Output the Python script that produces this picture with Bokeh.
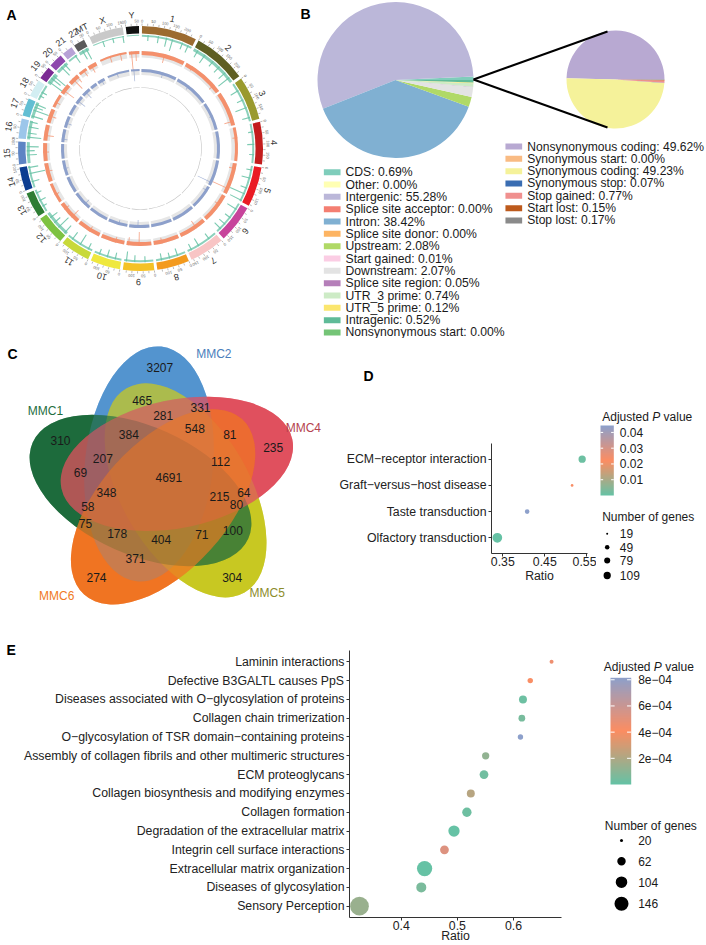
import math
import numpy as np
from bokeh.plotting import figure
from bokeh.layouts import row, column
from bokeh.models import ColumnDataSource, LinearColorMapper, FixedTicker, Range1d
from bokeh.core.properties import value
from bokeh.embed import file_html
from bokeh.resources import INLINE

FONT = "Liberation Sans"
TXT = "#1a1a1a"

# ======================= DATA =======================
# ---- A: circos ----
chrom_names = ["1", "2", "3", "4", "5", "6", "7", "8", "9", "10", "11", "12", "13", "14",
               "15", "16", "17", "18", "19", "20", "21", "22", "MT", "X", "Y"]
chrom_len_mb = [249.3, 243.2, 198.0, 191.2, 180.9, 171.1, 159.1, 146.4, 141.2, 135.5, 135.0,
                133.9, 115.2, 107.3, 102.5, 90.4, 81.2, 78.1, 59.1, 63.0, 48.1, 51.3, 0.02,
                155.3, 59.4]
chrom_colors = ["#9c6b30", "#5f5f22", "#9a9a2e", "#c31d1d", "#ea1c24", "#c7449b", "#f8c5c5",
                "#f39a1e", "#f4c226", "#efe83e", "#c8d93a", "#7dc242", "#2e7d34", "#0c3d91",
                "#5d84c4", "#9cc6ea", "#62bed3", "#d2eef2", "#7b2b94", "#8e48ad", "#b7a2d6",
                "#5a5a5a", "#888888", "#c9c9c9", "#111111"]
green_base = [2, 3, 2, 2, 2, 2, 2, 2, 2, 2, 2, 3, 2, 2, 3, 3, 3, 2, 4, 3, 2, 3, 0, 1, 1]
green_peaks = [("1", 30, 6), ("1", 80, 7), ("1", 120, 9), ("1", 150, 12), ("1", 200, 7),
               ("1", 230, 8), ("2", 20, 8), ("2", 60, 10), ("2", 110, 7), ("2", 150, 8),
               ("2", 190, 9), ("2", 220, 14), ("3", 40, 9), ("3", 90, 7), ("3", 130, 12),
               ("3", 180, 8), ("4", 40, 5), ("4", 100, 7), ("4", 150, 5), ("5", 20, 6),
               ("5", 60, 9), ("5", 110, 7), ("5", 140, 16), ("5", 175, 13), ("6", 30, 11),
               ("6", 80, 7), ("6", 120, 8), ("6", 150, 9), ("7", 40, 7), ("7", 100, 9),
               ("7", 140, 7), ("8", 40, 8), ("8", 80, 6), ("8", 120, 7), ("9", 40, 6),
               ("9", 90, 7), ("9", 130, 10), ("10", 30, 7), ("10", 70, 8), ("10", 110, 6),
               ("11", 20, 7), ("11", 65, 12), ("11", 110, 9), ("12", 10, 10), ("12", 50, 14),
               ("12", 80, 8), ("12", 110, 9), ("13", 30, 5), ("13", 60, 7), ("13", 100, 6),
               ("14", 30, 8), ("14", 70, 16), ("14", 100, 10), ("15", 40, 10), ("15", 60, 8),
               ("15", 80, 12), ("16", 10, 14), ("16", 30, 9), ("16", 60, 10), ("16", 85, 8),
               ("17", 10, 12), ("17", 40, 16), ("17", 55, 9), ("17", 70, 11), ("18", 20, 5),
               ("18", 40, 6), ("19", 10, 18), ("19", 30, 12), ("19", 45, 16), ("20", 30, 12),
               ("20", 50, 9), ("21", 40, 9), ("22", 20, 10), ("22", 40, 12), ("X", 50, 6),
               ("X", 100, 5), ("X", 150, 7)]
salmon_base = [4, 4, 4, 3, 4, 4, 4, 4, 4, 4, 4, 4, 3, 4, 4, 4, 4, 3, 4, 4, 3, 4, 0, 2, 3]
salmon_peaks = [("1", 130, 9), ("2", 40, 5), ("2", 200, 7), ("3", 175, 10), ("4", 60, 5),
                ("5", 30, 7), ("5", 150, 18), ("6", 60, 6), ("7", 60, 9), ("8", 100, 6),
                ("9", 70, 14), ("9", 130, 8), ("10", 50, 6), ("11", 60, 6), ("12", 40, 10),
                ("12", 100, 6), ("13", 50, 5), ("14", 60, 7), ("15", 50, 6), ("16", 30, 10),
                ("17", 40, 8), ("18", 30, 6), ("19", 20, 14), ("20", 30, 14), ("20", 55, 9),
                ("21", 30, 8), ("22", 20, 9), ("X", 60, 7), ("X", 120, 8), ("Y", 15, 18),
                ("Y", 40, 10)]
blue_base = [3, 3, 3, 3, 3, 3, 3, 3, 3, 3, 3, 3, 3, 3, 3, 3, 3, 3, 3, 3, 3, 3, 0, 2, 2]
blue_peaks = [("1", 150, 6), ("2", 90, 5), ("3", 100, 4), ("5", 160, 16), ("6", 30, 5),
              ("9", 80, 8), ("10", 60, 5), ("12", 40, 7), ("14", 50, 5), ("16", 20, 6),
              ("17", 30, 7), ("19", 20, 10), ("20", 30, 9), ("22", 30, 6), ("X", 70, 5),
              ("Y", 20, 12)]

# ---- B: pies ----
region_labels = ["CDS", "Other", "Intergenic", "Splice site acceptor", "Intron",
                 "Splice site donor", "Upstream", "Start gained", "Downstream",
                 "Splice site region", "UTR_3 prime", "UTR_5 prime", "Intragenic",
                 "Nonsynonymous start"]
region_pct = [0.69, 0.00, 55.28, 0.00, 38.42, 0.00, 2.08, 0.01, 2.07, 0.05, 0.74, 0.12,
              0.52, 0.00]
region_colors = ["#7fcdbb", "#ffffb3", "#bbb7d9", "#f47f72", "#80b0d2", "#fdb462", "#b0d966",
                 "#fbcde4", "#e3e3e3", "#b57fb9", "#cdebc6", "#fbe66e", "#5fbb98", "#74c476"]
coding_labels = ["Nonsynonymous coding", "Synonymous start", "Synonymous coding",
                 "Synonymous stop", "Stop gained", "Start lost", "Stop lost"]
coding_pct = [49.62, 0.00, 49.23, 0.07, 0.77, 0.15, 0.17]
coding_colors = ["#b8a9d2", "#f9bb83", "#f5f29a", "#3a6db2", "#f0908f", "#bd5a1c", "#8a8a8a"]

# ---- C: venn ----
venn_sets = ["MMC1", "MMC2", "MMC4", "MMC5", "MMC6"]
venn_colors = ["#1d6b3c", "#5394cf", "#e0505e", "#c8c822", "#f07422"]
venn_label_colors = ["#1f6e3e", "#4a7ebb", "#b5434f", "#8c8c2a", "#f07a24"]
venn_counts = [3207, 465, 331, 281, 310, 384, 548, 81, 235, 207, 112, 69, 4691, 348, 215,
               64, 80, 58, 75, 178, 404, 71, 100, 371, 274, 304]

# ---- D: KEGG dot plot (bottom -> top) ----
d_terms = ["Olfactory transduction", "Taste transduction", "Graft\u2212versus\u2212host disease",
           "ECM\u2212receptor interaction"]
d_ratio = [0.337, 0.408, 0.515, 0.539]
d_count = [109, 34, 19, 67]
d_padj = [1e-10, 0.0444, 0.023, 0.0012]
d_size_breaks = [19, 49, 79, 109]
d_p_ticks = [0.01, 0.02, 0.03, 0.04]

# ---- E: Reactome dot plot (bottom -> top) ----
e_terms = ["Sensory Perception", "Diseases of glycosylation", "Extracellular matrix organization",
           "Integrin cell surface interactions", "Degradation of the extracellular matrix",
           "Collagen formation", "Collagen biosynthesis and modifying enzymes",
           "ECM proteoglycans", "Assembly of collagen fibrils and other multimeric structures",
           "O\u2212glycosylation of TSR domain\u2212containing proteins",
           "Collagen chain trimerization",
           "Diseases associated with O\u2212glycosylation of proteins",
           "Defective B3GALTL causes PpS", "Laminin interactions"]
e_ratio = [0.3255, 0.4357, 0.4416, 0.477, 0.494, 0.517, 0.524, 0.5475, 0.5505, 0.6125, 0.615,
           0.617, 0.630, 0.668]
e_count = [146, 52, 102, 43, 62, 47, 38, 43, 34, 25, 31, 38, 25, 20]
e_padj = [1.4e-4, 6e-5, 1e-9, 5.2e-4, 1e-6, 2.5e-5, 2.2e-4, 3e-5, 1.2e-4, 8.15e-4, 5e-5,
          2e-5, 4.2e-4, 4.6e-4]
e_size_breaks = [20, 62, 104, 146]
e_p_ticks = [2e-4, 4e-4, 6e-4, 8e-4]
e_p_tick_labels = ["2e\u221204", "4e\u221204", "6e\u221204", "8e\u221204"]

GRAD = ["#66c2a5", "#fc8d62", "#8da0cb"]


# ======================= HELPERS =======================
def noalign(p):
    try:
        p.frame_align = False
    except Exception:
        pass
    return p


def blank(width, height, xr, yr):
    p = figure(width=width, height=height, x_range=Range1d(*xr), y_range=Range1d(*yr),
               x_axis_type=None, y_axis_type=None, toolbar_location=None,
               output_backend="svg", min_border=0)
    p.outline_line_color = None
    p.grid.visible = False
    p.background_fill_color = "white"
    p.border_fill_color = "white"
    return noalign(p)


def txt(p, xs, ys, texts, size="12px", align="left", color=TXT, style="normal", angle=0.0,
        baseline="middle"):
    p.text(x=xs, y=ys, text=texts, angle=angle, text_font=value(FONT), text_font_size=size,
           text_align=align, text_baseline=baseline, text_color=color, text_font_style=style)


def interp_palette(anchors, n=256):
    rgb = [tuple(int(h[i:i + 2], 16) for i in (1, 3, 5)) for h in anchors]
    out = []
    for k in range(n):
        t = k / (n - 1) * (len(rgb) - 1)
        i = min(int(t), len(rgb) - 2)
        f = t - i
        c = [round(rgb[i][j] * (1 - f) + rgb[i + 1][j] * f) for j in range(3)]
        out.append("#%02x%02x%02x" % tuple(c))
    return out


PAL = interp_palette(GRAD)

# page layout (no body margin): row1 y 0-338, row2 y 338-628, row3 y 628-945
# ======================= PANEL A =======================
pA = blank(300, 338, (-140, 160), (-190, 148))   # circle centre at page (140, 148)
N = len(chrom_names)
GAP = 1.4
SCALE = (360 - GAP * N) / sum(chrom_len_mb)
chrom_start = []
_t = GAP / 2
for L in chrom_len_mb:
    chrom_start.append(_t)
    _t += L * SCALE + GAP
cidx = {c: i for i, c in enumerate(chrom_names)}


def th(ci, pos):
    return chrom_start[ci] + pos * SCALE


def ang(t):
    return math.radians(90 - t)


def add_wedges(items, alpha=1.0):
    d = dict(ri=[], ro=[], sa=[], ea=[], c=[])
    for t1, t2, ri, ro, c in items:
        d["ri"].append(ri)
        d["ro"].append(ro)
        d["sa"].append(ang(t2))
        d["ea"].append(ang(t1))
        d["c"].append(c)
    pA.annular_wedge(x=0, y=0, inner_radius="ri", outer_radius="ro", start_angle="sa",
                     end_angle="ea", fill_color="c", fill_alpha=alpha, line_color=None,
                     source=ColumnDataSource(d))


R_ID0, R_ID1 = 115.0, 122.5
R_G = 113.8
R_S, R_S_BG = 97.5, 91.0
R_B, R_B_BG = 79.5, 73.5

bg_items, ideo_items, inner_items = [], [], []
gb_items, g_items, s_items, sp_items, b_items, bp_items = [], [], [], [], [], []
for i, L in enumerate(chrom_len_mb):
    if L < 1:
        continue
    t1, t2 = chrom_start[i], chrom_start[i] + L * SCALE
    ideo_items.append((t1, t2, R_ID0, R_ID1, chrom_colors[i]))
    bg_items.append((t1, t2, R_S_BG, R_S, "#e6e6e6"))
    bg_items.append((t1, t2, R_B_BG, R_B, "#e6e6e6"))
    inner_items.append((t1, t2, 60.7, 61.3, "#c4c4c4"))
    if green_base[i] > 0:
        gb_items.append((t1, t2, R_G - green_base[i], R_G, "#66c2a5"))
    s_items.append((t1, t2, R_S - salmon_base[i], R_S, "#f4906c"))
    b_items.append((t1, t2, R_B - blue_base[i], R_B, "#8da0cb"))

for c, pos, h in green_peaks:
    t = th(cidx[c], pos)
    g_items.append((t - 0.3, t + 0.3, R_G - h, R_G, "#66c2a5"))
for c, pos, h in salmon_peaks:
    t = th(cidx[c], pos)
    sp_items.append((t - 0.3, t + 0.3, R_S - h, R_S, "#f4906c"))
for c, pos, h in blue_peaks:
    t = th(cidx[c], pos)
    bp_items.append((t - 0.3, t + 0.3, R_B - h, R_B, "#8da0cb"))

add_wedges(bg_items)
add_wedges(ideo_items)
add_wedges(inner_items)
add_wedges(gb_items, 0.75)
add_wedges(g_items, 0.85)
add_wedges(s_items)
add_wedges(sp_items, 0.75)
add_wedges(b_items)
add_wedges(bp_items, 0.75)

tx0, ty0, tx1, ty1 = [], [], [], []
lx, ly, lt, la = [], [], [], []
for i, L in enumerate(chrom_len_mb):
    if L < 1:
        continue
    pos = 0
    while pos <= L:
        t = th(i, pos)
        a = ang(t)
        tx0.append(122.8 * math.cos(a)); ty0.append(122.8 * math.sin(a))
        tx1.append(125.0 * math.cos(a)); ty1.append(125.0 * math.sin(a))
        if pos % 50 == 0:
            lx.append(127.6 * math.cos(a)); ly.append(127.6 * math.sin(a))
            lt.append(str(pos)); la.append(-math.radians(t))
        pos += 25
pA.segment(x0=tx0, y0=ty0, x1=tx1, y1=ty1, line_color="#777777", line_width=0.5)
txt(pA, lx, ly, lt, size="4px", align="center", color="#666666", angle=la)

cx, cy, ct, ca = [], [], [], []
for i, name in enumerate(chrom_names):
    t = chrom_start[i] + chrom_len_mb[i] * SCALE / 2
    a = ang(t)
    cx.append(133.5 * math.cos(a)); cy.append(133.5 * math.sin(a))
    ct.append(name); ca.append(-math.radians(t))
txt(pA, cx, cy, ct, size="9px", align="center", color="#333333", angle=ca)
txt(pA, [-134], [134], ["A"], size="14px", style="bold", color="black")

# ======================= PANEL B =======================
pB = blank(406, 338, (300, 706), (-338, 0))


def pie(p, xc, yc, r, pct, colors):
    tot = sum(pct)
    cum = np.cumsum([0.0] + list(pct)) / tot * 2 * math.pi
    keep = [k for k, v in enumerate(pct) if v > 0]
    p.wedge(x=xc, y=yc, radius=r, start_angle=[cum[k] for k in keep],
            end_angle=[cum[k + 1] for k in keep], direction="anticlock",
            fill_color=[colors[k] for k in keep], line_color=None)


pie(pB, 395, -79.5, 78, region_pct, region_colors)
pie(pB, 615, -79, 49, coding_pct, coding_colors)
pB.segment(x0=[473, 473], y0=[-79, -79], x1=[607, 607], y1=[-31, -127], line_color="black",
           line_width=2)

ROW = 12.33
ly_left = [-(171.7 + k * ROW) for k in range(len(region_labels))]
ly_right = [-(146.0 + k * ROW) for k in range(len(coding_labels))]
pB.rect(x=331.7, y=ly_left, width=16.7, height=6, fill_color=region_colors, line_color=None)
pB.rect(x=513.3, y=ly_right, width=16.7, height=6, fill_color=coding_colors, line_color=None)
txt(pB, [345] * len(ly_left), ly_left,
    ["%s: %.2f%%" % (l, v) for l, v in zip(region_labels, region_pct)], size="12.2px")
txt(pB, [526.7] * len(ly_right), ly_right,
    ["%s: %.2f%%" % (l, v) for l, v in zip(coding_labels, coding_pct)], size="12.1px")
txt(pB, [300], [-13.5], ["B"], size="14px", style="bold", color="black")

# ======================= PANEL C =======================
pC = blank(330, 290, (0, 330), (-628, -338))
O = (162.5, 482.6)
RC, TH0, PHI0, EA, EB = 23.7, 161.8, 24.0, 118.0, 64.0
k_of = {"MMC1": 0, "MMC2": 1, "MMC4": 2, "MMC5": 3, "MMC6": 4}
draw_order = ["MMC2", "MMC5", "MMC1", "MMC4", "MMC6"]
for alpha in (1.0, 0.5):
    for s in draw_order:
        k = k_of[s]
        tc = math.radians(TH0 + 72 * k)
        ex = O[0] + RC * math.cos(tc)
        ey = O[1] + RC * math.sin(tc)
        pC.ellipse(x=ex, y=-ey, width=2 * EA, height=2 * EB,
                   angle=-math.radians(PHI0 + 72 * k),
                   fill_color=venn_colors[venn_sets.index(s)], fill_alpha=alpha,
                   line_color=None)

venn_count_xy = [(159.3, 366.7), (141.7, 400), (200, 406.7), (162.7, 415), (60, 440),
                 (128.3, 434), (194.3, 428.3), (229.3, 434), (272.7, 446.7), (102.3, 458.3),
                 (220, 460.7), (80, 471.7), (168.3, 476.7), (106, 492.3), (219, 495.7),
                 (243.3, 492.3), (236, 504), (87.3, 505.7), (85, 523.3), (116.7, 533.3),
                 (160.7, 539.3), (201.3, 534), (232.3, 530), (135, 557.7), (96, 576.7),
                 (231.7, 576.7)]
txt(pC, [q[0] for q in venn_count_xy], [-q[1] for q in venn_count_xy],
    [str(v) for v in venn_counts], size="12px", align="center")
venn_label_xy = [(45, 410.5), (213.3, 353.8), (302.8, 427), (266.7, 592), (56.2, 595.3)]
txt(pC, [q[0] for q in venn_label_xy], [-q[1] for q in venn_label_xy], venn_sets, size="12px",
    align="center", color=venn_label_colors)
txt(pC, [7], [-353], ["C"], size="14px", style="bold", color="black")


# ======================= DOT PLOTS =======================
def dot_size(n, nmin, nmax, dmin, dmax):
    return math.sqrt(dmin ** 2 + (n - nmin) / (nmax - nmin) * (dmax ** 2 - dmin ** 2))


def dot_plot(width, height, mbl, mbr, mbt, mbb, xr, terms, ratio, count, padj, mapper,
             xticks, xlabels, sz, label_standoff):
    p = figure(width=width, height=height, x_range=Range1d(*xr),
               y_range=Range1d(0.4, len(terms) + 0.6), toolbar_location=None,
               output_backend="svg", min_border_left=mbl, min_border_right=mbr,
               min_border_top=mbt, min_border_bottom=mbb)
    noalign(p)
    p.outline_line_color = None
    p.grid.visible = False
    src = ColumnDataSource(dict(x=ratio, y=list(range(1, len(terms) + 1)), n=count, p=padj,
                                size=[dot_size(n, *sz) for n in count]))
    p.scatter("x", "y", size="size", source=src, line_color=None,
              fill_color={"field": "p", "transform": mapper})
    p.xaxis.ticker = FixedTicker(ticks=xticks)
    p.xaxis.major_label_overrides = {t: l for t, l in zip(xticks, xlabels)}
    p.yaxis.ticker = FixedTicker(ticks=list(range(1, len(terms) + 1)))
    p.yaxis.major_label_overrides = {i + 1: t for i, t in enumerate(terms)}
    for ax in (p.xaxis[0], p.yaxis[0]):
        ax.axis_line_color = "#333333"
        ax.axis_line_width = 1
        ax.major_tick_line_color = "#333333"
        ax.major_tick_out = 3
        ax.major_tick_in = 0
        ax.minor_tick_line_color = None
        ax.major_label_text_font = FONT
        ax.major_label_text_font_size = "12.3px"
        ax.major_label_text_color = "#222222"
        ax.major_label_standoff = 2
    p.xaxis.major_label_standoff = 0
    p.xaxis.axis_label = "Ratio"
    p.xaxis.axis_label_text_font = FONT
    p.xaxis.axis_label_text_font_size = "12.3px"
    p.xaxis.axis_label_text_font_style = "normal"
    p.xaxis.axis_label_text_color = "#222222"
    p.xaxis.axis_label_standoff = label_standoff
    return p


def legend(p, mapper, hi, ticks, tick_labels, title_xy, bar, lab_x, size_title_xy, breaks,
           dot_x, dot_ys, sz):
    x0, x1, ytop, ybot = bar
    fs = 12.0
    tx, ty = title_xy
    txt(p, [tx], [-ty], ["Adjusted"], size="12px")
    px_ = tx + (3.891 + 0.278) * fs
    txt(p, [px_], [-ty], ["P"], size="12px", style="italic")
    txt(p, [px_ + (0.667 + 0.278) * fs], [-ty], ["value"], size="12px")
    p.image(image=[np.linspace(0, hi, 200).reshape(-1, 1)], x=x0, y=-ybot, dw=x1 - x0,
            dh=ybot - ytop, color_mapper=mapper)
    tys = [-(ybot - v / hi * (ybot - ytop)) for v in ticks]
    w5 = (x1 - x0) / 5
    p.segment(x0=[x0] * len(tys) + [x1 - w5] * len(tys), y0=tys + tys,
              x1=[x0 + w5] * len(tys) + [x1] * len(tys), y1=tys + tys, line_color="white",
              line_width=1)
    txt(p, [lab_x] * len(tys), tys, tick_labels, size="12px")
    sx, sy = size_title_xy
    txt(p, [sx], [-sy], ["Number of genes"], size="12px")
    p.scatter(x=[dot_x] * len(breaks), y=[-v for v in dot_ys],
              size=[0.75 * dot_size(n, *sz) for n in breaks], fill_color="black",
              line_color=None)
    txt(p, [lab_x] * len(breaks), [-v for v in dot_ys], [str(b) for b in breaks], size="12px")


# ---- D ----
d_mapper = LinearColorMapper(palette=PAL, low=0.0, high=max(d_padj))
d_sz = (min(d_count), max(d_count), 2.7, 9.7)
pDtop = blank(376, 62, (330, 706), (-400, -338))
txt(pDtop, [368], [-375.5], ["D"], size="14px", style="bold", color="black", align="center")
pD = dot_plot(266, 228, 161, 9, 43, 75, (0.3231, 0.5517), d_terms, d_ratio, d_count, d_padj,
              d_mapper, [0.35, 0.45, 0.55], ["0.35", "0.45", "0.55"], d_sz, 0)
pDleg = blank(110, 228, (596, 706), (-628, -400))
legend(pDleg, d_mapper, max(d_padj), d_p_ticks, ["%.2f" % v for v in d_p_ticks],
       (601.7, 416), (600, 613.3, 425, 495), 619.3, (601.7, 516.7), d_size_breaks, 606.7,
       [533.3, 546.7, 560, 575], d_sz)

# ---- E ----
e_mapper = LinearColorMapper(palette=PAL, low=0.0, high=max(e_padj))
e_sz = (min(e_count), max(e_count), 4.0, 18.7)
pEl = blank(20, 317, (0, 20), (-945, -628))
txt(pEl, [6], [-649.5], ["E"], size="14px", style="bold", color="black")
pE = dot_plot(576, 317, 329, 35, 22, 27, (0.3077, 0.6857), e_terms, e_ratio, e_count, e_padj,
              e_mapper, [0.4, 0.5, 0.6], ["0.4", "0.5", "0.6"], e_sz, -4)
pEleg = blank(110, 317, (596, 706), (-945, -628))
legend(pEleg, e_mapper, max(e_padj), e_p_ticks, e_p_tick_labels, (603.3, 666.7),
       (610, 630.7, 677.3, 784), 637.7, (604.3, 825), e_size_breaks, 621,
       [840, 860.7, 881.7, 903.3], e_sz)

layout = column(row(pA, pB),
                row(pC, column(pDtop, row(pD, pDleg))),
                row(pEl, pE, pEleg))

with open("out.html", "w") as f:
    f.write(file_html(layout, INLINE))
